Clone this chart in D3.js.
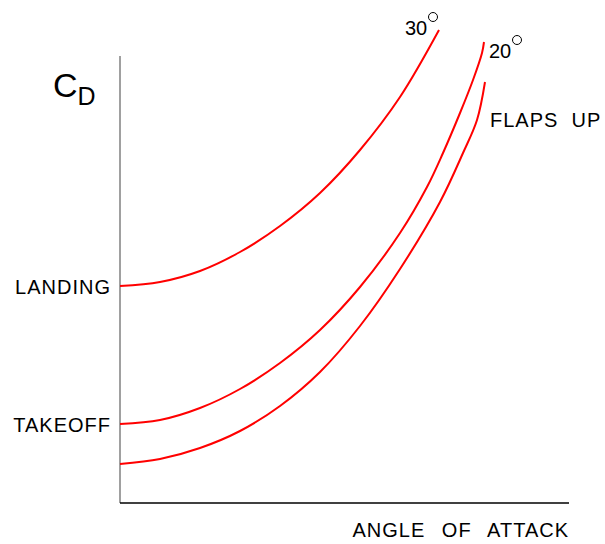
<!DOCTYPE html>
<html lang="en">
<head>
    <meta charset="UTF-8">
    <title>Drag Coefficient vs Angle of Attack</title>
    <script src="https://d3js.org/d3.v7.min.js"></script>
    <style>
        body { margin: 0; background: #fff; }
        text { font-family: "Liberation Sans", Arial, sans-serif; fill: #000; }
    </style>
</head>
<body>
    <div id="chart"></div>
    <script>
        // Curve data (arbitrary units: angle of attack vs C_D)
        const landingAlpha = [0, 40, 80, 120, 160, 200, 240, 280, 319];
        const landingCd    = [217, 221, 232, 251, 277, 310, 353, 406, 473];

        const takeoffAlpha = [0, 40, 80, 120, 160, 200, 240, 280, 307, 323, 340, 353, 362, 364];
        const takeoffCd    = [79, 83, 95, 114, 140, 173, 216, 270, 316, 350, 390, 423, 450, 461];

        const flapsUpAlpha = [0, 40, 80, 120, 160, 200, 240, 280, 320, 343, 357, 365];
        const flapsUpCd    = [39, 44, 55, 72, 97, 131, 177, 234, 301, 350, 383, 421];

        const yLabels = ["LANDING", "TAKEOFF"];
        const endLabels = ["30", "20", "FLAPS  UP"];

        const width = 605, height = 544;
        const margin = { top: 56, right: 35, bottom: 41, left: 120 };

        const x = d3.scaleLinear()
            .domain([0, 450])
            .range([margin.left, width - margin.right]);

        const y = d3.scaleLinear()
            .domain([0, 447])
            .range([height - margin.bottom, margin.top]);

        const svg = d3.select("#chart")
            .append("svg")
            .attr("width", width)
            .attr("height", height);

        // axes (plain lines, no ticks)
        svg.append("line")
            .attr("x1", x(0)).attr("x2", x(0))
            .attr("y1", y(0)).attr("y2", y(447))
            .attr("stroke", "#808080")
            .attr("stroke-width", 1.5);

        svg.append("line")
            .attr("x1", x(0)).attr("x2", x(449))
            .attr("y1", y(0)).attr("y2", y(0))
            .attr("stroke", "#000")
            .attr("stroke-width", 1.5);

        const line = d3.line()
            .x(d => x(d[0]))
            .y(d => y(d[1]))
            .curve(d3.curveCatmullRom.alpha(0.5));

        const series = [
            d3.zip(landingAlpha, landingCd),
            d3.zip(takeoffAlpha, takeoffCd),
            d3.zip(flapsUpAlpha, flapsUpCd)
        ];

        svg.selectAll(".curve")
            .data(series)
            .join("path")
            .attr("class", "curve")
            .attr("fill", "none")
            .attr("stroke", "#ff0000")
            .attr("stroke-width", 2)
            .attr("d", line);

        // y-axis category labels at curve starts
        [landingCd[0], takeoffCd[0]].forEach((v, i) => {
            svg.append("text")
                .attr("x", x(0) - 9)
                .attr("y", y(v) + 8)
                .attr("text-anchor", "end")
                .attr("font-size", "20px")
                .attr("letter-spacing", "1px")
                .text(yLabels[i]);
        });

        // C_D axis title
        const cd = svg.append("text")
            .attr("x", 53)
            .attr("y", 97)
            .attr("font-size", "34px");
        cd.append("tspan").text("C");
        cd.append("tspan")
            .attr("font-size", "25px")
            .attr("dy", 8)
            .text("D");

        // x-axis title
        svg.append("text")
            .attr("x", x(449))
            .attr("y", 537)
            .attr("text-anchor", "end")
            .attr("font-size", "20px")
            .attr("letter-spacing", "1px")
            .attr("word-spacing", "10px")
            .text("ANGLE OF ATTACK");

        // flap-setting labels near curve ends
        const lastL = landingAlpha.length - 1;
        const lastT = takeoffAlpha.length - 1;
        const lastF = flapsUpAlpha.length - 1;

        const degLabel = (lx, ly, txt) => {
            svg.append("text")
                .attr("x", lx)
                .attr("y", ly)
                .attr("font-size", "20px")
                .text(txt);
            svg.append("circle")
                .attr("cx", lx + 28)
                .attr("cy", ly - 18)
                .attr("r", 4.5)
                .attr("fill", "none")
                .attr("stroke", "#000")
                .attr("stroke-width", 1);
        };
        degLabel(x(landingAlpha[lastL]) - 34, y(landingCd[lastL]) + 5, endLabels[0]);
        degLabel(x(takeoffAlpha[lastT]) + 5, y(takeoffCd[lastT]) + 16, endLabels[1]);

        svg.append("text")
            .attr("x", x(flapsUpAlpha[lastF]) + 5)
            .attr("y", y(flapsUpCd[lastF]) + 45)
            .attr("font-size", "20px")
            .attr("letter-spacing", "1px")
            .style("white-space", "pre")
            .text(endLabels[2]);
    </script>
</body>
</html>
